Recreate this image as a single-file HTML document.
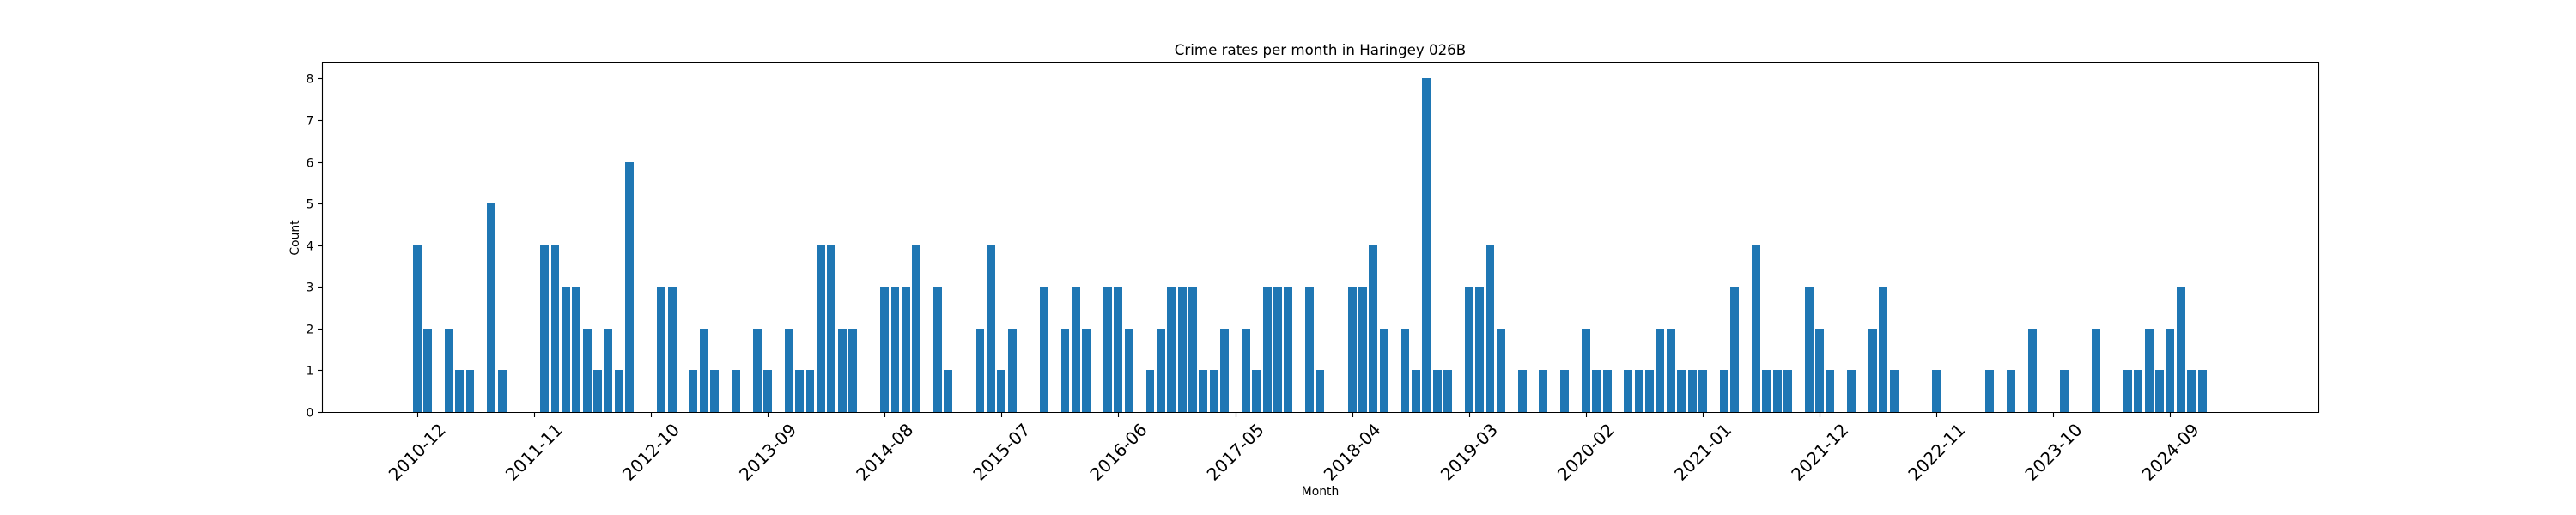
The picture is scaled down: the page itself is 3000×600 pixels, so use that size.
<!DOCTYPE html>
<html lang="en">
<head>
<meta charset="utf-8">
<title>Crime rates per month in Haringey 026B</title>
<style>
html,body{margin:0;padding:0;background:#fff;width:3000px;height:600px;overflow:hidden}
svg{display:block}
text{font-family:"DejaVu Sans","Liberation Sans",sans-serif;fill:#000}
</style>
</head>
<body>
<svg id="chart" xmlns="http://www.w3.org/2000/svg" width="3000" height="600" viewBox="0 0 3000 600">
  <rect x="0" y="0" width="3000" height="600" fill="#fff"/>
  <g id="bars"></g>
  <g id="yticks"></g>
  <g id="xticks"></g>
  <g fill="none" stroke="#000" stroke-width="1.11">
    <line x1="375.5" y1="72" x2="375.5" y2="481"/>
    <line x1="2700.5" y1="72" x2="2700.5" y2="481"/>
    <line x1="375" y1="72.5" x2="2701" y2="72.5"/>
    <line x1="375" y1="480.5" x2="2701" y2="480.5"/>
  </g>
  <text x="1537.5" y="64" font-size="16.67" text-anchor="middle">Crime rates per month in Haringey 026B</text>
  <text x="1537.5" y="577" font-size="13.89" text-anchor="middle">Month</text>
  <text transform="translate(348,277) rotate(-90)" font-size="13.89" text-anchor="middle">Count</text>
</svg>
<script>
const counts = [
  4,2,0,2,1,1,0,5,1,0,0,0,4,4,3,3,2,1,2,1,
  6,0,0,3,3,0,1,2,1,0,1,0,2,1,0,2,1,1,4,4,
  2,2,0,0,3,3,3,4,0,3,1,0,0,2,4,1,2,0,0,3,
  0,2,3,2,0,3,3,2,0,1,2,3,3,3,1,1,2,0,2,1,
  3,3,3,0,3,1,0,0,3,3,4,2,0,2,1,8,1,1,0,3,
  3,4,2,0,1,0,1,0,1,0,2,1,1,0,1,1,1,2,2,1,
  1,1,0,1,3,0,4,1,1,1,0,3,2,1,0,1,0,2,3,1,
  0,0,0,1,0,0,0,0,1,0,1,0,2,0,0,1,0,0,2,0,
  0,1,1,2,1,2,3,1,1,0,0
];
const tickLabels = ["2010-12","2011-11","2012-10","2013-09","2014-08","2015-07","2016-06","2017-05","2018-04","2019-03","2020-02","2021-01","2021-12","2022-11","2023-10","2024-09"];
const tickEvery = 11;
const yTicks = [0,1,2,3,4,5,6,7,8];

const NS = 'http://www.w3.org/2000/svg';
const plot = {left:375, right:2700, top:72, bottom:480};
const barFrac = 0.8;
const yMax = Math.max.apply(null, counts) * 1.05;
const xSpan = (counts.length - 1) + barFrac;
const xMargin = xSpan * 0.05;
const xMin = -barFrac / 2 - xMargin;
const xMax = (counts.length - 1) + barFrac / 2 + xMargin;
function xScale(i){ return plot.left + (i - xMin) / (xMax - xMin) * (plot.right - plot.left); }
function yScale(v){ return plot.bottom - v / yMax * (plot.bottom - plot.top); }

const barsG = document.getElementById('bars');
counts.forEach(function(v, i){
  if (v <= 0) return;
  const x0 = Math.round(xScale(i - barFrac / 2));
  const x1 = Math.round(xScale(i + barFrac / 2));
  const yt = Math.round(yScale(v));
  const r = document.createElementNS(NS, 'rect');
  
  
  r.setAttribute('x', x0);
  r.setAttribute('y', yt);
  r.setAttribute('width', x1 - x0);
  r.setAttribute('height', plot.bottom + 0.5 - yt);
  r.setAttribute('fill', '#1f77b4');
  barsG.appendChild(r);
});

const yG = document.getElementById('yticks');
yTicks.forEach(function(t){
  const y = Math.round(yScale(t)) + 0.5;
  const l = document.createElementNS(NS, 'line');
  
  
  l.setAttribute('x1', plot.left - 5);
  l.setAttribute('x2', plot.left);
  l.setAttribute('y1', y);
  l.setAttribute('y2', y);
  l.setAttribute('stroke', '#000');
  l.setAttribute('stroke-width', '1.11');
  yG.appendChild(l);
  const s = document.createElementNS(NS, 'text');
  
  
  s.setAttribute('x', plot.left - 9.7);
  s.setAttribute('y', y + 5);
  s.setAttribute('font-size', '13.89');
  s.setAttribute('text-anchor', 'end');
  s.textContent = String(t);
  yG.appendChild(s);
});

const xG = document.getElementById('xticks');
tickLabels.forEach(function(lab, k){
  const xx = xScale(k * tickEvery);
  const x = Math.round(xx) + 0.5;
  const l = document.createElementNS(NS, 'line');
  
  
  l.setAttribute('x1', x);
  l.setAttribute('x2', x);
  l.setAttribute('y1', plot.bottom);
  l.setAttribute('y2', plot.bottom + 6);
  l.setAttribute('stroke', '#000');
  l.setAttribute('stroke-width', '1.11');
  xG.appendChild(l);
  const s = document.createElementNS(NS, 'text');
  
  
  s.setAttribute('transform', 'translate(' + xx + ',526.5) rotate(-45)');
  s.setAttribute('font-size', '20');
  s.setAttribute('text-anchor', 'middle');
  s.setAttribute('dy', '0.36em');
  s.textContent = lab;
  xG.appendChild(s);
});
</script>
</body>
</html>
